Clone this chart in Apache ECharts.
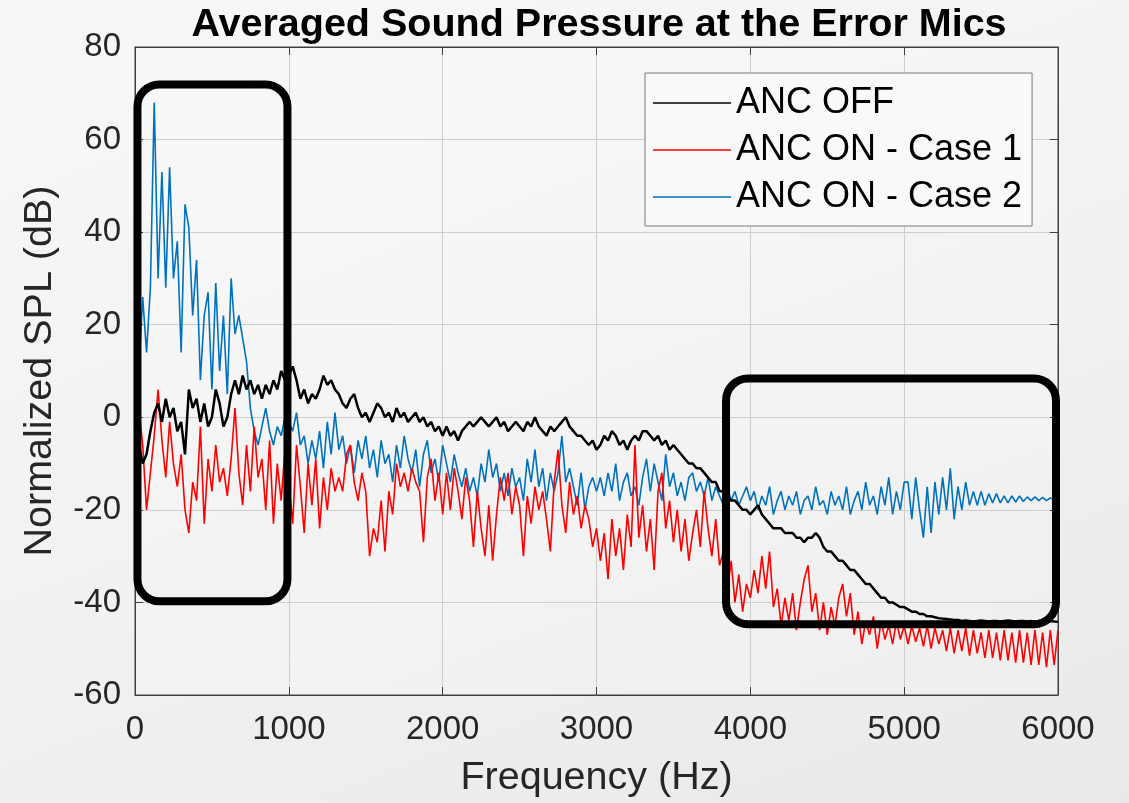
<!DOCTYPE html>
<html>
<head>
<meta charset="utf-8">
<title>Averaged Sound Pressure at the Error Mics</title>
<script src="https://cdn.jsdelivr.net/npm/echarts@6/dist/echarts.min.js"></script>
<style>
  html, body { margin: 0; padding: 0; }
  #chart {
    width: 1129px;
    height: 803px;
    background: linear-gradient(160deg, #f8f8f8 0%, #f1f1f1 55%, #e9e9e9 100%);
  }
</style>
</head>
<body>
<div id="chart"></div>
<script>
// sample spacing of the spectra (Hz), points run 0 ... 6000
const freqStep = 25;

// ANC OFF
const ancOff = [
  -2, -6, -10, -8, -3, 1, 3, -1, 4, 0, 2, -3, -1, -8, 6, 2, 4, -1, 3, -2,
  0, 6, 3, -2, 0, 5, 8, 5, 9, 6, 8, 5, 7, 4, 7, 5, 8, 6, 10, 8, 9,
  11, 8, 4, 6, 3, 5, 4, 6, 9, 7, 8, 6, 5, 3, 2, 4, 5, 2, 0, 1,
  -1, 1, 3, 2, 0, 1, -1, 2, 0, 1, -1, 0, 1, -1, 0, -2, -1, -3, -2, -4,
  -2, -4, -3, -5, -3, -2, -1, -2, -1, 0, -1, -2, -1, 0, -2, -1, -3, -2, -1, -2,
  -3, -1, -2, 0, -2, -3, -4, -2, -3, -2, -1, 0, -2, -3, -4, -4, -5, -6, -5, -7,
  -6, -4, -5, -3, -4, -6, -5, -7, -5, -4, -5, -3, -3, -4, -5, -4, -6, -5, -7, -6,
  -7, -8, -9, -10, -10, -11, -11, -12, -13, -14, -14, -16, -16, -17, -18, -18, -19, -20, -20, -21,
  -20, -19, -21, -22, -23, -24, -24, -24, -25, -25, -25, -26, -26, -27, -26, -26, -25, -26, -28, -29,
  -29, -30, -31, -31, -32, -33, -33, -34, -35, -36, -36, -37, -38, -39, -39, -40, -40, -40.5, -41, -41,
  -41.5, -42, -42, -42.5, -42.5, -43, -43, -43.2, -43.4, -43.5, -43.6, -43.7, -43.8, -43.8, -44, -43.9, -44, -44.1, -44, -43.9,
  -44, -44.1, -44, -44, -44.1, -44, -43.9, -44, -44.1, -44, -44, -44.1, -44, -44.2, -44, -44.1, -44.2, -44, -44.1, -44.2
];

// ANC ON - Case 1
const ancOnCase1 = [
  -2, 2, -6, -20, -12, -4, 6, -5, -13, -1, -10, -15, -8, -20, -25, -14, -18, -2, -23, -9,
  -16, -6, -14, -11, -17, -9, 2, -12, -19, -6, -16, -2, -13, -9, -20, -5, -23, -10, -18, -7, -14,
  -23, -6, -15, -25, -10, -19, -9, -24, -13, -20, -11, -16, -13, -16, -8, -6, -14, -18, -12, -16,
  -30, -24, -27, -18, -29, -16, -21, -10, -15, -12, -16, -11, -14, -16, -27, -13, -9, -18, -12, -21,
  -12, -20, -11, -16, -22, -13, -18, -28, -16, -24, -30, -19, -31, -21, -13, -18, -12, -21, -15, -19,
  -30, -17, -23, -15, -20, -16, -22, -29, -14, -7, -19, -25, -14, -21, -17, -24, -19, -22, -28, -24,
  -31, -25, -35, -22, -30, -24, -33, -21, -28, -6, -26, -19, -29, -22, -33, -16, -12, -24, -18, -27,
  -20, -29, -22, -31, -25, -20, -28, -16, -24, -30, -22, -32, -29, -38, -31, -40, -34, -42, -36, -39,
  -33, -38, -30, -37, -29, -41, -37, -45, -39, -44, -38, -46, -40, -35, -32, -42, -38, -46, -40, -47,
  -41, -45, -39, -36, -43, -38, -47, -42, -49, -44, -47, -43, -50, -44, -48, -45, -49, -44, -48, -45,
  -49, -45, -48.5, -45.5, -49.5, -45, -50, -45.5, -49, -46, -50.5, -45.5, -51, -46, -50.5, -45.5, -51.5, -46, -51, -46.5,
  -52, -46, -52, -46.5, -52.5, -46, -52.5, -46.5, -53, -46, -53, -46.5, -53.5, -46, -53.5, -46.5, -54, -46, -53.5, -46
];

// ANC ON - Case 2
const ancOnCase2 = [
  15, 10, 26, 14, 28, 68, 30, 53, 28, 54, 30, 38, 14, 46, 41, 22, 34, 8, 22, 27,
  6, 29, 10, 22, 5, 30, 18, 22, 17, 12, 2, -3, -6, -2, 2, -3, -6, -2, -4, 0, -1,
  -3, 1, -6, -4, -10, -5, -9, -3, -11, -1, -8, 1, -7, -4, -10, -6, -12, -5, -9, -4,
  -11, -7, -13, -5, -10, -8, -14, -6, -11, -4, -9, -12, -7, -15, -8, -5, -12, -9, -14, -6,
  -10, -14, -8, -12, -15, -11, -16, -13, -17, -10, -14, -7, -13, -10, -16, -12, -17, -11, -15, -13,
  -18, -9, -14, -7, -15, -11, -18, -12, -16, -12, -4, -14, -11, -15, -19, -12, -20, -15, -13, -16,
  -13, -17, -12, -16, -10, -18, -14, -12, -17, -15, -19, -13, -9, -16, -10, -14, -18, -8, -15, -12,
  -17, -14, -18, -13, -12, -16, -14, -17, -13, -18, -15, -17, -19, -15, -18, -16, -19, -17, -15, -18,
  -16, -20, -17, -19, -15, -21, -18, -16, -20, -17, -19, -16, -21, -18, -17, -20, -15, -19, -18, -21,
  -16, -19, -17, -20, -15, -21, -18, -16, -20, -14, -19, -17, -21, -15, -19, -13, -21, -16, -20, -14,
  -14, -22, -13, -20, -26, -15, -25, -14, -21, -13, -20, -11, -22, -15, -20, -14, -19, -16, -19, -16,
  -19, -16.5, -18.5, -16.5, -18.5, -17, -18.5, -17, -18.3, -17, -18.2, -17.2, -18, -17.2, -18, -17.3, -18, -17.4, -17.9, -17.5
];

const seriesNames = ["ANC OFF", "ANC ON - Case 1", "ANC ON - Case 2"];

// the two black rounded boxes, in data units [f0, dB0, f1, dB1]
const highlightBoxes = [
  [16, 71.9, 991, -39.75],
  [3842, 8.4, 5987, -44.7]
];

const toPoints = (values) => values.map((v, i) => [i * freqStep, v]);

const chartNode = echarts.init(document.getElementById("chart"));

const fontFamily = "Liberation Sans, Arial, sans-serif";
const axisText = { color: "#262626", fontFamily: fontFamily };
const frameLine = { show: true, onZero: false, lineStyle: { color: "#404040", width: 1 } };
const frameTick = { show: true, inside: true, length: 8, lineStyle: { color: "#404040" } };

const option = {
  animation: false,
  backgroundColor: "transparent",
  title: {
    text: "Averaged Sound Pressure at the Error Mics",
    left: 594,
    top: 0,
    textAlign: "center",
    textStyle: {
      color: "#000",
      fontSize: 39.5,
      fontWeight: "bold",
      fontFamily: fontFamily
    }
  },
  legend: {
    data: seriesNames.map((n) => ({ name: n, icon: "rect" })),
    orient: "vertical",
    left: 645,
    top: 73,
    padding: [12, 10, 11, 8],
    itemWidth: 78,
    itemHeight: 1.5,
    itemGap: 11,
    backgroundColor: "#f9f9f9",
    borderColor: "#7a7a7a",
    borderWidth: 1,
    borderRadius: 0,
    textStyle: {
      color: "#000",
      fontSize: 36,
      fontFamily: fontFamily
    }
  },
  grid: {
    left: 135,
    right: 71,
    top: 47,
    bottom: 108,
    show: true,
    backgroundColor: "rgba(255,255,255,0.2)",
    borderColor: "#404040",
    borderWidth: 1
  },
  xAxis: [
    {
      type: "value",
      min: 0,
      max: 6000,
      interval: 1000,
      name: "Frequency (Hz)",
      nameLocation: "middle",
      nameGap: 63,
      nameTextStyle: Object.assign({ fontSize: 39.5 }, axisText),
      axisLine: frameLine,
      axisTick: frameTick,
      axisLabel: Object.assign({ fontSize: 33, margin: 18, formatter: (v) => String(v) }, axisText),
      splitLine: { show: true, lineStyle: { color: "#cdcdcd", width: 1 } }
    },
    {
      type: "value",
      position: "top",
      min: 0,
      max: 6000,
      interval: 1000,
      axisLine: frameLine,
      axisTick: frameTick,
      axisLabel: { show: false },
      splitLine: { show: false }
    }
  ],
  yAxis: [
    {
      type: "value",
      min: -60,
      max: 80,
      interval: 20,
      name: "Normalized SPL (dB)",
      nameLocation: "middle",
      nameGap: 75,
      nameTextStyle: Object.assign({ fontSize: 39.5 }, axisText),
      axisLine: frameLine,
      axisTick: frameTick,
      axisLabel: Object.assign({ fontSize: 33, margin: 14 }, axisText),
      splitLine: { show: true, lineStyle: { color: "#cdcdcd", width: 1 } }
    },
    {
      type: "value",
      position: "right",
      min: -60,
      max: 80,
      interval: 20,
      axisLine: frameLine,
      axisTick: frameTick,
      axisLabel: { show: false },
      splitLine: { show: false }
    }
  ],
  series: [
    {
      name: seriesNames[0],
      type: "line",
      symbol: "none",
      z: 4,
      lineStyle: { color: "#000000", width: 2.5 },
      itemStyle: { color: "#000000" },
      data: toPoints(ancOff)
    },
    {
      name: seriesNames[1],
      type: "line",
      symbol: "none",
      z: 3,
      lineStyle: { color: "#ff0000", width: 1.6 },
      itemStyle: { color: "#ff0000" },
      data: toPoints(ancOnCase1)
    },
    {
      name: seriesNames[2],
      type: "line",
      symbol: "none",
      z: 2,
      lineStyle: { color: "#0072bd", width: 1.6 },
      itemStyle: { color: "#0072bd" },
      data: toPoints(ancOnCase2)
    }
  ]
};

chartNode.setOption(option);

// rounded highlight boxes drawn on top of the plot
const boxGraphics = highlightBoxes.map((b) => {
  const p0 = chartNode.convertToPixel({ gridIndex: 0 }, [b[0], b[1]]);
  const p1 = chartNode.convertToPixel({ gridIndex: 0 }, [b[2], b[3]]);
  return {
    type: "rect",
    z: 100,
    shape: { x: p0[0], y: p0[1], width: p1[0] - p0[0], height: p1[1] - p0[1], r: 22 },
    style: { fill: "none", stroke: "#000", lineWidth: 8 }
  };
});

chartNode.setOption({ graphic: boxGraphics });
</script>
</body>
</html>
